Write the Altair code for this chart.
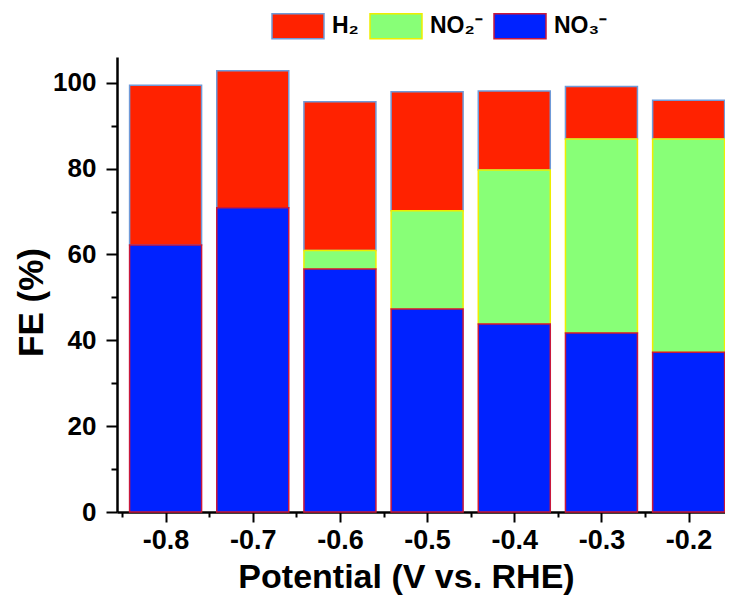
import altair as alt
import pandas as pd

potentials = [-0.8, -0.7, -0.6, -0.5, -0.4, -0.3, -0.2]
no3 = [62.2, 70.9, 56.6, 47.3, 43.8, 41.7, 37.2]
no2 = [0.0, 0.0, 4.3, 22.9, 35.9, 45.2, 49.7]
h2 = [37.2, 31.9, 34.7, 27.7, 18.4, 12.2, 9.0]

species = ["H\u2082", "NO\u2082\u207b", "NO\u2083\u207b"]
fills = ["#ff2200", "#88ff77", "#0022ff"]
strokes = ["#6f9ad8", "#eeee00", "#c8183c"]
stack_order = {species[0]: 2, species[1]: 1, species[2]: 0}

major_x = [-0.8, -0.7, -0.6, -0.5, -0.4, -0.3, -0.2]
minor_x = [-0.85, -0.75, -0.65, -0.55, -0.45, -0.35, -0.25]
major_y = [0, 20, 40, 60, 80, 100]
minor_y = [10, 30, 50, 70, 90]

rows = []
for i, p in enumerate(potentials):
    for name, vals in zip(species, [h2, no2, no3]):
        if vals[i] > 0:
            rows.append({"Potential": p, "Species": name, "FE": vals[i], "ord": stack_order[name]})
df = pd.DataFrame(rows)

FONT = "Liberation Sans"

xscale = alt.Scale(domain=[-0.85, -0.164], nice=False, zero=False)
yscale = alt.Scale(domain=[0, 106], nice=False)

legend = alt.Legend(
    orient="none", legendX=154, legendY=-58, direction="horizontal", title=None,
    symbolType="M-1,-0.48L1,-0.48L1,0.48L-1,0.48Z", symbolSize=2704,
    symbolStrokeWidth=1.5, symbolOpacity=1,
    labelFont=FONT, labelFontSize=23, labelFontWeight="bold", labelColor="black",
    labelOffset=7, columnPadding=8, padding=0, labelLimit=200,
)

bars = alt.Chart(df).mark_bar(width=72, strokeWidth=1.5, opacity=1).encode(
    x=alt.X("Potential:Q", scale=xscale,
            axis=alt.Axis(orient="bottom", values=major_x, format=".1f",
                          labelExpr="replace(datum.label, '\u2212', '-')",
                          title="Potential (V vs. RHE)", grid=False,
                          domainColor="black", domainWidth=2.5,
                          tickColor="black", tickWidth=2, tickSize=10,
                          labelFont=FONT, labelFontSize=27, labelFontWeight="bold",
                          labelColor="black", labelPadding=5,
                          titleFont=FONT, titleFontSize=34, titleFontWeight="bold",
                          titleColor="black", titleX=289, titleY=75,
                          titleBaseline="alphabetic", titleAlign="center")),
    y=alt.Y("FE:Q", scale=yscale, stack="zero",
            axis=alt.Axis(orient="left", values=major_y, title="FE (%)", grid=False,
                          domainColor="black", domainWidth=2.5,
                          tickColor="black", tickWidth=2, tickSize=11,
                          labelFont=FONT, labelFontSize=26, labelFontWeight="bold",
                          labelColor="black", labelPadding=10,
                          titleFont=FONT, titleFontSize=35, titleFontWeight="bold",
                          titleColor="black", titleX=-86, titleY=245,
                          titleBaseline="middle", titleAngle=-90, titleAlign="center")),
    fill=alt.Fill("Species:N", scale=alt.Scale(domain=species, range=fills), legend=legend),
    stroke=alt.Stroke("Species:N", scale=alt.Scale(domain=species, range=strokes), legend=legend),
    order=alt.Order("ord:Q"),
)

minor = alt.Chart(df).mark_bar(opacity=0, width=72).encode(
    x=alt.X("Potential:Q", scale=xscale,
            axis=alt.Axis(orient="bottom", values=minor_x, title=None, labels=False,
                          domain=False, grid=False, tickColor="black", tickWidth=2,
                          tickSize=5)),
    y=alt.Y("FE:Q", scale=yscale, stack="zero",
            axis=alt.Axis(orient="left", values=minor_y, title=None, labels=False,
                          domain=False, grid=False, tickColor="black", tickWidth=2,
                          tickSize=6)),
)

chart = alt.layer(bars, minor).resolve_axis(x="independent", y="independent").properties(
    width=608, height=455,
    padding={"left": 109, "top": 49, "right": 0, "bottom": 83},
    autosize=alt.AutoSizeParams(type="none"),
).configure_view(stroke=None)

chart.save("out.html", embed_options={"renderer": "svg", "actions": False})
